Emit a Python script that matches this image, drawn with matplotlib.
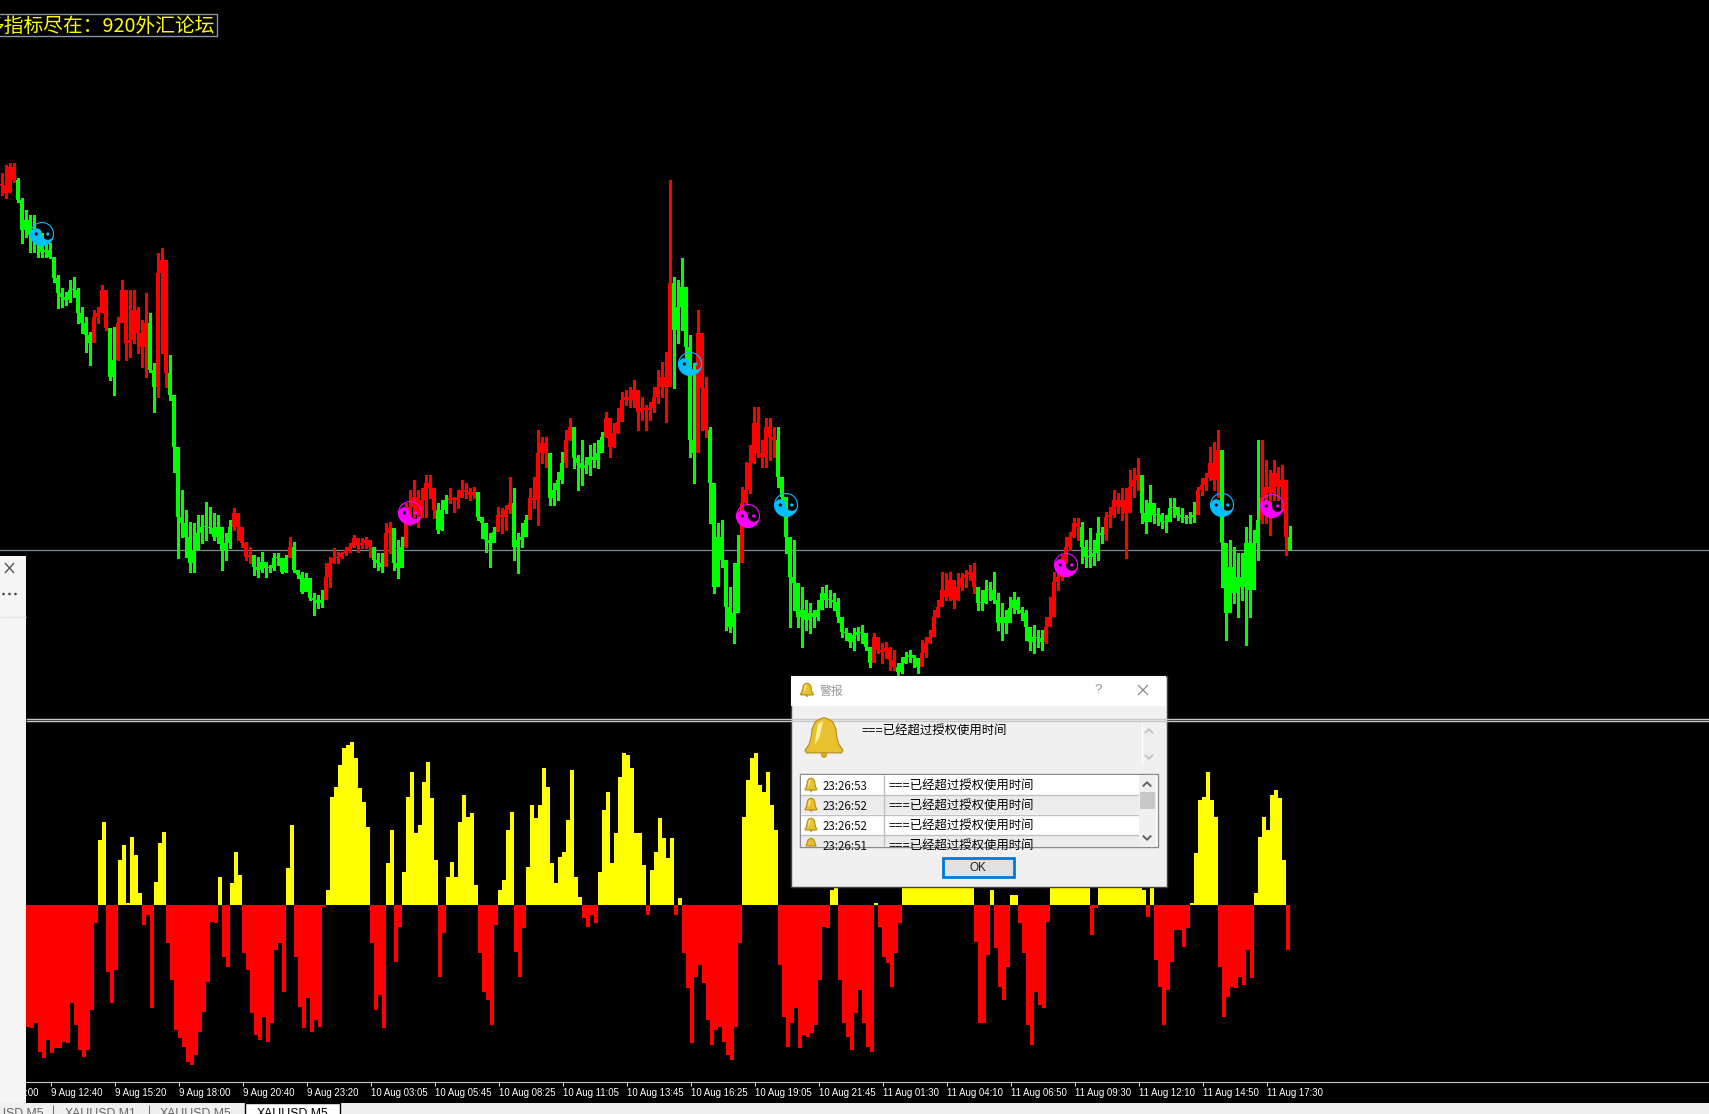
import numpy as np
import matplotlib
matplotlib.use('Agg')
import matplotlib.pyplot as plt
from matplotlib.patches import Rectangle, Polygon, Circle

plt.rcParams['font.family'] = ['Noto Sans CJK SC', 'DejaVu Sans']

# price bars, one every 2 M5 bars, in points above an arbitrary level
high = [527,535,537,537,522,502,490,485,485,470,467,460,457,443,425,412,408,420,423,412,
        393,383,368,390,393,415,410,352,373,383,420,407,410,410,393,380,407,387,337,447,
        452,370,345,300,212,210,190,178,177,185,185,198,193,187,185,170,167,180,192,187,
        170,158,153,145,143,148,138,135,147,147,138,145,163,158,130,128,127,120,107,105,
        110,137,143,152,148,148,153,157,165,162,162,163,157,150,147,147,177,178,162,160,
        163,197,210,220,210,212,225,225,207,197,200,205,212,203,210,220,217,212,213,205,
        183,170,167,173,193,192,195,223,212,167,177,185,212,223,270,263,263,247,217,228,
        248,270,282,273,245,260,243,255,257,260,268,288,275,277,292,308,310,313,320,297,
        303,295,298,313,330,338,348,520,423,420,442,375,365,337,390,327,323,273,192,177,
        180,133,113,137,165,213,238,255,293,293,260,282,282,273,273,213,183,147,160,108,
        113,100,97,90,100,113,115,110,107,102,80,72,67,72,73,75,63,50,67,62,
        57,58,53,50,37,43,48,50,43,40,60,63,70,90,100,128,127,128,110,127,
        127,130,135,137,107,110,120,118,128,107,97,90,103,108,103,93,90,73,75,70,
        70,83,103,128,130,145,163,168,182,182,178,160,172,160,183,173,188,193,210,207,
        212,212,230,232,242,212,200,215,193,192,187,185,202,202,193,192,185,188,198,213,
        222,227,253,258,270,250,137,160,153,147,147,173,185,170,260,260,240,230,240,233,
        235,193,174]
low = [505,502,522,518,498,457,463,448,448,443,443,443,442,418,392,393,395,398,403,377,
       367,348,335,363,377,397,370,320,305,340,380,340,343,357,347,333,323,328,288,303,
       347,313,300,228,142,163,143,128,128,153,157,160,167,160,157,130,140,152,170,160,
       153,140,137,125,123,128,123,128,130,135,127,128,145,128,122,107,113,100,85,92,
       93,113,113,137,137,142,145,148,153,148,152,152,143,133,130,128,153,147,130,122,
       140,153,175,183,173,183,183,202,182,167,170,187,197,188,192,205,202,200,202,180,
       162,148,133,158,175,167,170,187,140,127,153,165,192,192,175,237,233,195,195,200,
       217,233,260,232,210,215,227,225,233,232,255,263,243,253,267,290,295,293,293,270,
       280,270,280,288,297,303,278,343,312,357,370,330,243,217,323,270,263,177,107,140,
       133,70,68,57,105,150,197,207,237,243,233,233,240,243,213,197,147,73,90,73,
       53,70,67,73,80,93,93,93,90,78,63,60,53,50,60,57,50,33,47,47,
       37,42,30,30,25,27,37,38,33,27,37,43,57,73,83,100,100,100,92,100,
       110,113,120,107,90,90,97,100,97,70,60,67,83,87,87,80,60,50,47,53,
       50,57,78,103,110,120,137,150,163,160,137,133,133,135,140,157,160,173,183,187,
       180,142,200,203,210,177,167,187,177,175,172,168,183,183,180,178,177,177,178,192,
       205,210,220,210,203,113,60,110,97,83,100,55,83,123,140,177,177,165,200,200,
       190,145,150]
close = [515,507,533,520,500,470,480,465,460,455,448,450,443,422,407,403,400,410,410,387,
         377,365,357,383,387,410,372,323,340,377,410,357,360,390,367,353,377,330,313,427,
         440,327,305,253,183,177,163,137,150,167,173,173,172,163,173,150,157,173,187,173,
         157,143,145,133,130,138,132,132,142,142,128,142,153,130,125,108,122,102,100,97,
         100,123,137,142,143,147,150,153,162,155,157,160,153,140,137,133,167,172,137,132,
         153,183,193,203,185,200,217,212,190,170,190,200,202,200,202,210,208,205,208,183,
         177,160,157,168,185,183,190,197,153,160,163,180,202,200,247,257,247,202,210,220,
         237,260,273,242,237,232,235,243,240,247,263,282,253,267,278,300,303,300,310,288,
         292,290,292,303,313,323,313,417,370,393,413,353,260,247,367,312,270,217,113,163,
         140,93,73,87,137,197,210,237,277,247,243,273,263,260,223,203,163,123,117,83,
         90,80,87,83,90,107,100,100,98,83,68,67,58,65,68,67,53,37,63,50,
         48,52,40,33,28,37,43,45,42,33,47,57,63,83,93,110,103,120,100,113,
         122,125,128,113,97,97,110,110,100,77,83,77,92,100,90,87,73,58,63,62,
         58,73,83,118,123,137,153,163,177,173,153,143,143,147,167,165,183,185,200,193,
         200,187,213,220,225,187,178,197,185,185,178,178,192,193,185,183,182,183,185,210,
         215,222,237,220,250,157,87,133,107,123,113,157,110,157,180,203,213,207,227,213,
         220,163,150]
# how many price bars in a row carry the same trend colour, starting with red
trend_runs = [4,19,4,2,8,2,3,16,5,9,1,8,12,3,2,3,8,3,7,5,4,4,5,4,2,8,17,6,3,8,9,24,6,6,14,17,9,6,9,14,6,10,7,1]

# oscillator in the lower window, one value every 2 M5 bars
osc = [-122,-123,-118,-147,-153,-135,-148,-143,-143,-137,
       -138,-98,-120,-145,-152,-145,-105,-18,65,83,
       -67,-98,-65,45,60,2,68,50,12,-20,
       -10,-103,23,62,73,-38,-75,-125,-133,-142,
       -157,-160,-150,-127,-107,-77,-17,-18,28,-52,
       -62,22,53,30,-48,-65,-108,-130,-135,-112,
       -137,-118,-45,-38,-87,37,80,-52,-102,-123,
       -93,-127,-115,-122,-2,15,108,118,140,157,
       160,163,147,117,103,78,-38,-105,-90,-123,
       42,75,-57,-22,33,108,133,72,80,123,
       143,107,45,-72,-28,28,
       43,28,83,110,88,92,20,-48,-87,-95,
       -120,-20,15,25,75,93,-47,-72,-23,38,
       100,87,100,137,118,42,22,48,53,85,
       135,28,8,-13,-22,-10,-18,33,95,113,
       42,72,128,152,150,137,72,72,40,-10,
       35,53,87,67,47,67,-10,7,-48,-83,
       -138,-72,-60,-78,-115,-140,-125,-122,-137,-150,
       -155,-122,-38,88,125,147,152,120,113,133,
       100,75,-60,-112,-142,-118,-103,-143,-130,-132,
       -128,-120,-75,-22,-23,15,18,-75,-118,-132,
       -145,-108,-85,-118,-142,
       -147,2,-22,-52,-58,-82,-48,-18,45,60,
       70,65,75,80,70,60,70,80,85,70,
       60,55,50,60,45,30,-37,-118,-118,-50,
       15,-43,-82,-95,-62,10,10,-18,-48,-120,
       -140,-87,-100,-103,-17,40,60,75,80,70,
       65,60,55,45,30,-30,-3,35,55,70,
       75,70,65,60,55,60,50,35,15,-12,
       18,-55,-82,-120,-85,-57,-25,-25,-42,-23,
       2,52,105,108,133,105,88,-62,-112,-92,
       -82,-83,-72,-80,-45,-73,12,68,88,75,
       110,115,107,45,-45]

# yin-yang signals: bar number and price
buy_x = [21, 345, 393, 611]
buy_y = [466, 336, 195, 195]
sell_x = [205, 374, 533, 636]
sell_y = [187, 184, 135, 194]
last_price = 150

tick_labels = ['9 Aug 12:40', '9 Aug 15:20', '9 Aug 18:00', '9 Aug 20:40', '9 Aug 23:20',
               '10 Aug 03:05', '10 Aug 05:45', '10 Aug 08:25', '10 Aug 11:05', '10 Aug 13:45',
               '10 Aug 16:25', '10 Aug 19:05', '10 Aug 21:45', '11 Aug 01:30', '11 Aug 04:10',
               '11 Aug 06:50', '11 Aug 09:30', '11 Aug 12:10', '11 Aug 14:50', '11 Aug 17:30']

list_times = ['23:26:53', '23:26:52', '23:26:52', '23:26:51']
alert_text = '===已经超过授权使用时间'

W, H = 1709, 1114
GREEN, RED, YELLOW = '#00ff00', '#ff0000', '#ffff00'
CYAN, MAGENTA = '#00bfff', '#ff00ff'
ALERT_FONT = ['Liberation Sans', 'Noto Sans CJK SC']

fig = plt.figure(figsize=(W / 100, H / 100), dpi=100, facecolor='black')

# ---- main window
ax = fig.add_axes([0, 1 - 720 / H, 1, 720 / H], facecolor='black')
ax.set_xlim(0, W / 2)
ax.set_ylim(-20, 700)
ax.axis('off')

x = 1 + 2 * np.arange(len(close))
close_a = np.array(close, dtype=float)
open_a = np.r_[close_a[0], close_a[:-1]]
colors = []
c = RED
for n in trend_runs:
    colors += [c] * n
    c = GREEN if c == RED else RED

ax.axhline(last_price, color='#7f8c9a', lw=0.9, zorder=1)
ax.vlines(x, low, high, colors=colors, lw=0.8, antialiased=False, zorder=2)
ax.bar(x, np.maximum(np.abs(close_a - open_a), 1), bottom=np.minimum(close_a, open_a),
       width=2, color=colors, antialiased=False, zorder=2)


def yin_yang(a, cx, cy, col, r=11.5):
    # the dark lobe stays see-through, as on the platform
    t = np.linspace(0, np.pi, 40)
    xs = np.r_[-np.cos(t), 0.5 + 0.5 * np.cos(t), -0.5 + 0.5 * np.cos(t)]
    ys = np.r_[-np.sin(t), -0.5 * np.sin(t), 0.5 * np.sin(t)]
    a.fill(cx + r * xs / 2, cy + r * ys, color=col, lw=0, zorder=3)
    t2 = np.linspace(0, 2 * np.pi, 80)
    a.plot(cx + r * np.cos(t2) / 2, cy + r * np.sin(t2), color=col, lw=0.8, zorder=3.2)
    e = 0.14
    a.fill(cx + r * (-0.5 + e * np.cos(t2)) / 2, cy + r * e * np.sin(t2), color='black', lw=0, zorder=3.3)
    a.fill(cx + r * (0.5 + e * np.cos(t2)) / 2, cy + r * e * np.sin(t2), color=col, lw=0, zorder=3.3)


for bx, by in zip(buy_x, buy_y):
    yin_yang(ax, bx, by, CYAN)
for sx, sy in zip(sell_x, sell_y):
    yin_yang(ax, sx, sy, MAGENTA)

# ---- oscillator window
ax2 = fig.add_axes([0, 1 - 1082 / H, 1, 360 / H], facecolor='black')
ax2.set_xlim(0, W / 2)
ax2.set_ylim(-177, 183)
osc_a = np.array(osc)
osc_x = 14 + 2 * np.arange(len(osc_a))
ax2.bar(osc_x, osc_a, width=2, color=[YELLOW if v > 0 else RED for v in osc_a], antialiased=False)
for s in ['top', 'left', 'right']:
    ax2.spines[s].set_visible(False)
ax2.spines['bottom'].set_color('#c8c8c8')
ax2.set_yticks([])
tick_x = 25.65 + 32 * np.arange(len(tick_labels))
ax2.set_xticks(tick_x)
ax2.set_xticklabels(tick_labels, fontsize=6.95, color='white', ha='left', family=['Liberation Sans'])
ax2.tick_params(axis='x', colors='#c8c8c8', length=3, width=0.8, pad=1, labelcolor='white')
# the label left of the first tick runs under the side panel
ax2.annotate('9 Aug 10:00', xy=(-6.35, 0), xycoords=('data', 'axes fraction'), xytext=(0, -4),
             textcoords='offset points', fontsize=6.95, color='white', family=['Liberation Sans'],
             ha='left', va='top', annotation_clip=False)

# ---- window chrome drawn on top, in screen pixels
ui = fig.add_axes([0, 0, 1, 1], zorder=5)
ui.set_xlim(0, W)
ui.set_ylim(H, 0)
ui.axis('off')


def rect(x0, y0, x1, y1, fc, ec='none', lw=0, z=1):
    p = Rectangle((x0, y0), x1 - x0, y1 - y0, facecolor=fc, edgecolor=ec, linewidth=lw, zorder=z)
    ui.add_patch(p)
    return p


def line(xs, ys, col, lw=1.0, z=2):
    ui.plot(xs, ys, color=col, lw=lw, zorder=z, solid_capstyle='butt')


def bell(cx, top, hw, hh, z=4):
    shape = [(-0.16, 0.04), (-0.46, 0.12), (-0.62, 0.3), (-0.68, 0.52), (-0.78, 0.7), (-1, 0.85),
             (-0.92, 0.92), (0.92, 0.92), (1, 0.85), (0.78, 0.7), (0.68, 0.52), (0.62, 0.3),
             (0.46, 0.12), (0.16, 0.04), (0, 0.02)]
    pts = [(cx + hw * a, top + hh * b) for a, b in shape]
    ui.add_patch(Polygon(pts, closed=True, facecolor='#e8c22e', edgecolor='#b58a16', lw=0.8, zorder=z))
    shine = [(-0.32, 0.18), (-0.05, 0.1), (-0.22, 0.5), (-0.5, 0.72)]
    ui.add_patch(Polygon([(cx + hw * a, top + hh * b) for a, b in shine], closed=True,
                         facecolor='#fbeea0', edgecolor='none', zorder=z + 0.1))
    ui.add_patch(Circle((cx, top + 0.97 * hh), 0.14 * hw, facecolor='#d9ad20', edgecolor='#b58a16',
                        lw=0.5, zorder=z - 0.1))


def chevron(cx, cy, up, col, size=3.5, lw=1.4, z=4):
    d = -1 if up else 1
    ui.plot([cx - size, cx, cx + size], [cy - d * size / 2, cy + d * size / 2, cy - d * size / 2],
            color=col, lw=lw, zorder=z)


# indicator banner
rect(-3, 14, 217, 36, 'black', '#8a95a3', 1.0)
ui.text(215, 26, '多指标尽在：920外汇论坛', color=YELLOW, fontsize=14.2, ha='right', va='center', zorder=2)

# window separator and left panel
line([26, W], [719, 719], '#c8c8c8', 1.0)
line([26, W], [721, 721], '#c8c8c8', 1.0)
rect(0, 556, 26, 1104, '#f5f5f5')
line([5, 14], [563, 573], '#555555', 1.0)
line([5, 14], [573, 563], '#555555', 1.0)
for dx in [3.5, 9.5, 15.5]:
    ui.add_patch(Circle((dx, 594), 1.3, facecolor='#444444', zorder=2))
line([0, 26], [617, 617], '#e4e4e4', 1.0)

# tab strip
rect(0, 1103, W, H + 2, '#f0f0f0')
rect(245, 1103, 340, H + 2, 'white', z=2)
line([245, 245, 340, 340], [H + 2, 1103, 1103, H + 2], 'black', 1.0, z=3)
line([52.5, 52.5], [1105, H], '#777777', 0.8)
line([148.5, 148.5], [1105, H], '#777777', 0.8)
for tx, ts, tc in [(-3, 'USD,M5', '#666666'), (65, 'XAUUSD,M1', '#666666'),
                   (160, 'XAUUSD,M5', '#666666'), (257, 'XAUUSD,M5', 'black')]:
    ui.text(tx, 1107, ts, color=tc, fontsize=8.8, family=['Liberation Sans'], ha='left', va='top', zorder=4)

# alert dialog
rect(790.5, 675.5, 1166.5, 887, '#f0f0f0', '#444444', 1.0, z=1)
rect(791, 676, 1166, 706, 'white', z=1.1)
bell(807, 683, 6.5, 13)
ui.text(820, 691, '警报', color='#999999', fontsize=8.6, ha='left', va='center', zorder=4)
ui.text(1098, 690, '?', color='#999999', fontsize=9.5, ha='center', va='center', zorder=4, family=['Liberation Sans'])
line([1138, 1148], [685, 695], '#888888', 0.9)
line([1138, 1148], [695, 685], '#888888', 0.9)

bell(824, 717, 19, 39)
ui.text(861, 732, alert_text, color='black', fontsize=8.9, ha='left', va='center', zorder=4, family=ALERT_FONT)
line([1141.5, 1141.5], [722, 765], 'white', 0.8)
chevron(1149, 731, True, '#c4c4c4')
chevron(1149, 757, False, '#c4c4c4')

# list of alerts
box = rect(799.5, 773.5, 1157.5, 847, 'white', '#8a8a92', 1.0, z=1.2)
row_tops = [775, 795, 815, 835]
row_cols = ['white', '#ececec', 'white', '#ececec']
for top, col, tm in zip(row_tops, row_cols, list_times):
    rect(801, top, 1139, min(top + 19, 846), col, z=1.3)
    if top < 835:
        line([801, 1139], [top + 19.5, top + 19.5], '#c0c0c0', 1.0, z=1.4)
    t1 = ui.text(823, top + 11, tm, color='#111111', fontsize=8.3, ha='left', va='center', zorder=4)
    t2 = ui.text(888, top + 11.5, alert_text, color='black', fontsize=8.9, ha='left', va='center', zorder=4,
                 family=ALERT_FONT)
    t1.set_clip_path(box)
    t2.set_clip_path(box)
    if top < 835:
        bell(811, top + 3, 6, 13)
    else:
        ui.add_patch(Polygon([(806, 846), (808, 840), (811, 838), (814, 840), (816, 846)],
                             facecolor='#e8c22e', edgecolor='#b58a16', lw=0.8, zorder=4))
line([883.5, 883.5], [775, 846], '#c0c0c0', 1.0, z=1.5)
rect(1139, 775, 1156, 846, '#f0f0f0', z=1.6)
rect(1140, 792, 1155, 809, '#c8c8c8', z=1.7)
chevron(1147, 784, True, '#606060', z=2)
chevron(1147, 838, False, '#606060', z=2)

# OK button
rect(943, 858, 1014, 877, '#e1e1e1', '#0078d7', 2.0, z=1.2)
ui.text(978, 868, 'OK', color='#222222', fontsize=8.4, ha='center', va='center', zorder=4, family=['Liberation Sans'])

fig.savefig('out.png', dpi=100, facecolor='black')
